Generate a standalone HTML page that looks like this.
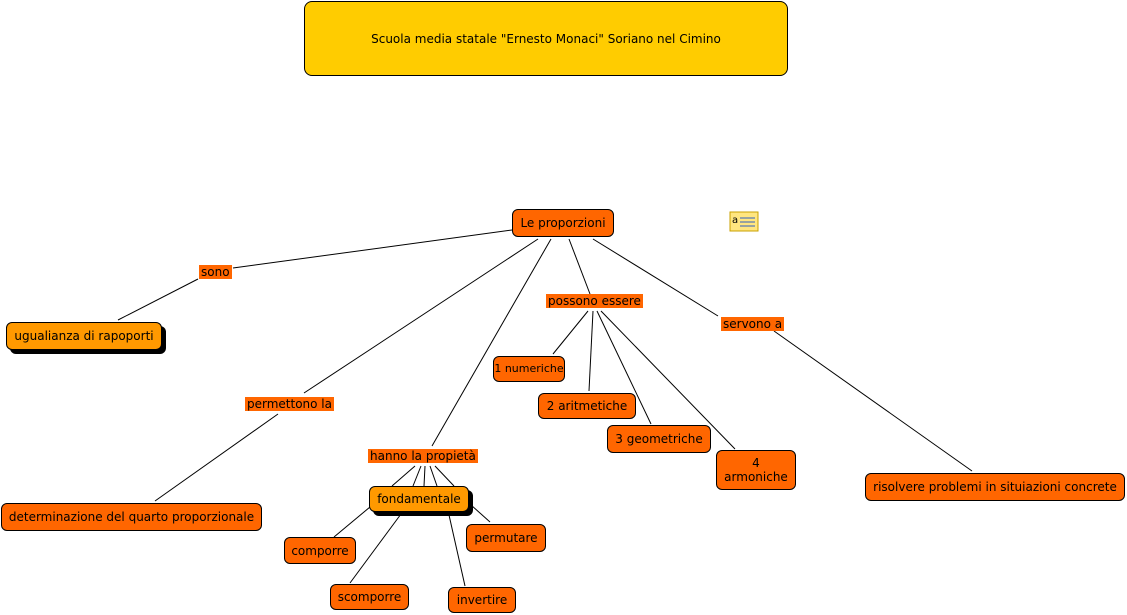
<!DOCTYPE html>
<html><head><meta charset="utf-8"><style>
body{margin:0;width:1127px;height:615px;background:#fff;position:relative;overflow:hidden;font-family:"DejaVu Sans","Liberation Sans",sans-serif;font-size:12px;color:#000}
.n{position:absolute;box-sizing:border-box;background:#FF6600;border:1px solid #000;border-radius:6px;display:flex;align-items:center;justify-content:center;text-align:center;line-height:14px;white-space:nowrap}
.y{background:#FF9900;box-shadow:4px 4px 0 #000}
.l{position:absolute;background:#FF6600;line-height:14px;padding:0 2px;white-space:nowrap}
svg{position:absolute;left:0;top:0}
</style></head><body>
<svg width="1127" height="615"><g stroke="#000" stroke-width="1" fill="none">
<line x1="512" y1="230" x2="233" y2="268"/><line x1="198" y1="279" x2="118" y2="320"/>
<line x1="538" y1="239" x2="304" y2="393"/><line x1="278" y1="414" x2="155" y2="501"/>
<line x1="551" y1="239" x2="432" y2="446"/>
<line x1="569" y1="239" x2="590" y2="294"/>
<line x1="593" y1="239" x2="718" y2="316"/><line x1="774" y1="331" x2="972" y2="471"/>
<line x1="415" y1="466" x2="392" y2="486"/><line x1="421" y1="466" x2="413" y2="486"/><line x1="425" y1="466" x2="424" y2="486"/><line x1="430" y1="466" x2="437" y2="486"/><line x1="435" y1="466" x2="454" y2="486"/>
<line x1="370" y1="507" x2="334" y2="537"/><line x1="401" y1="514" x2="350" y2="583"/><line x1="449" y1="515" x2="465" y2="586"/><line x1="471" y1="505" x2="490" y2="522"/>
<line x1="588" y1="311" x2="553" y2="354"/><line x1="593" y1="311" x2="589" y2="391"/><line x1="597" y1="311" x2="651" y2="424"/><line x1="601" y1="311" x2="735" y2="449"/>
</g>
<rect x="730" y="212" width="28" height="19" fill="#FFE680" stroke="#C9A000"/>
<text x="732" y="223" font-size="10" font-family="DejaVu Sans">a</text>
<line x1="740" y1="218" x2="755" y2="218" stroke="#3060c0"/><line x1="740" y1="222" x2="755" y2="222" stroke="#3060c0"/><line x1="740" y1="226" x2="755" y2="226" stroke="#3060c0"/>
</svg>
<div class="n" style="left:304px;top:1px;width:484px;height:75px;background:#FFCC00;border-radius:8px">Scuola media statale "Ernesto Monaci" Soriano nel Cimino</div>
<div class="n" style="left:512px;top:209px;width:102px;height:28px">Le proporzioni</div>
<div class="l" style="left:199px;top:265px">sono</div>
<div class="n y" style="left:6px;top:322px;width:156px;height:28px">ugualianza di rapoporti</div>
<div class="l" style="left:245px;top:397px">permettono la</div>
<div class="n" style="left:1px;top:503px;width:261px;height:28px">determinazione del quarto proporzionale</div>
<div class="l" style="left:368px;top:449px">hanno la propietà</div>
<div class="n y" style="left:369px;top:486px;width:100px;height:26px">fondamentale</div>
<div class="n" style="left:284px;top:537px;width:72px;height:27px">comporre</div>
<div class="n" style="left:330px;top:584px;width:79px;height:26px">scomporre</div>
<div class="n" style="left:448px;top:587px;width:68px;height:26px">invertire</div>
<div class="n" style="left:466px;top:524px;width:80px;height:28px">permutare</div>
<div class="l" style="left:546px;top:294px">possono essere</div>
<div class="n" style="left:493px;top:356px;width:72px;height:26px;font-size:11px">1 numeriche</div>
<div class="n" style="left:538px;top:393px;width:98px;height:26px">2 aritmetiche</div>
<div class="n" style="left:607px;top:425px;width:104px;height:28px">3 geometriche</div>
<div class="n" style="left:716px;top:450px;width:80px;height:40px;white-space:normal">4<br>armoniche</div>
<div class="l" style="left:721px;top:317px">servono a</div>
<div class="n" style="left:865px;top:473px;width:260px;height:28px">risolvere problemi in situiazioni concrete</div>
</body></html>
